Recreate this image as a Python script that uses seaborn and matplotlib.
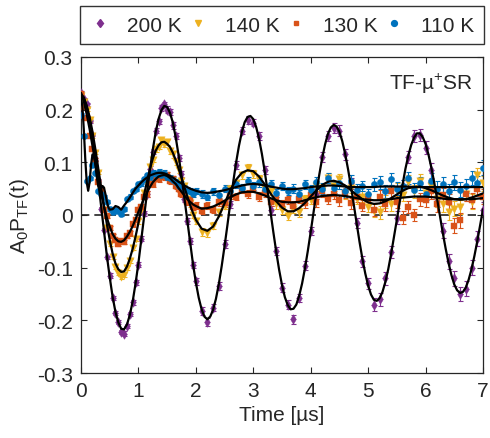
import numpy as np
import matplotlib
matplotlib.use("Agg")
import matplotlib.pyplot as plt
from matplotlib.lines import Line2D
import seaborn as sns

sns.set_theme(style="ticks")
plt.rcParams['font.family'] = ['Liberation Sans', 'DejaVu Sans']
plt.rcParams['mathtext.fontset'] = 'custom'
plt.rcParams['mathtext.rm'] = 'Liberation Sans'
plt.rcParams['mathtext.it'] = 'Liberation Sans:italic'

# ---------------- time bins ----------------
t_data = np.round(np.concatenate([np.linspace(0, 2.0, 41), np.linspace(2.1, 7.0, 50)]), 3)
t_fit200 = np.round(np.linspace(0, 7.0, 141), 3)
t_fit110 = np.round(np.concatenate([np.linspace(0, 0.5, 21), np.linspace(0.55, 2.0, 30),
                                    np.linspace(2.1, 7.0, 50)]), 3)

labels = ["200 K", "140 K", "130 K", "110 K"]
colors = ["#7E2F8E", "#EDB120", "#D95319", "#0072BD"]
markers = ["d", "v", "s", "o"]

# ---------------- data (A0 P_TF) ----------------
y200 = [0.232, 0.220, 0.210, 0.178, 0.152, 0.105, 0.066, 0.012, -0.028, -0.080,
        -0.115, -0.158, -0.186, -0.203, -0.222, -0.225, -0.210, -0.188, -0.166, -0.128,
        -0.094, -0.045, 0.003, 0.040, 0.088, 0.120, 0.160, 0.178, 0.203, 0.210,
        0.200, 0.196, 0.170, 0.150, 0.108, 0.078, 0.030, -0.012, -0.050, -0.095, -0.126,
        -0.182, -0.203, -0.176, -0.135, -0.055, 0.020, 0.095, 0.160, 0.180, 0.175,
        0.150, 0.085, 0.010, -0.068, -0.138, -0.170, -0.198, -0.158, -0.096, -0.030,
        0.040, 0.110, 0.150, 0.165, 0.160, 0.115, 0.060, -0.015, -0.088, -0.130,
        -0.170, -0.160, -0.120, -0.070, -0.005, 0.055, 0.110, 0.150, 0.152, 0.128,
        0.085, 0.030, -0.030, -0.088, -0.120, -0.150, -0.140, -0.100, -0.045, 0.010]
y140 = [0.225, 0.215, 0.200, 0.180, 0.150, 0.118, 0.080, 0.045, 0.010, -0.025,
        -0.055, -0.080, -0.098, -0.110, -0.118, -0.113, -0.100, -0.088, -0.062, -0.045,
        -0.012, 0.010, 0.042, 0.060, 0.092, 0.105, 0.125, 0.130, 0.142, 0.135,
        0.138, 0.122, 0.115, 0.100, 0.085, 0.065, 0.055, 0.030, 0.022, 0.000, -0.012,
        -0.032, -0.035, -0.020, 0.005, 0.018, 0.050, 0.060, 0.075, 0.090, 0.078,
        0.068, 0.050, 0.045, 0.020, 0.010, -0.002, 0.012, 0.005, 0.030, 0.028,
        0.055, 0.048, 0.070, 0.055, 0.068, 0.040, 0.052, 0.030, 0.035, 0.015,
        0.008, 0.005, 0.025, 0.020, 0.048, 0.038, 0.063, 0.045, 0.065, 0.042,
        0.055, 0.030, 0.020, 0.005, 0.012, 0.015, 0.040, 0.025, 0.075, 0.060]
y130 = [0.230, 0.205, 0.185, 0.150, 0.125, 0.105, 0.062, 0.045, 0.010, -0.002,
        -0.025, -0.040, -0.048, -0.055, -0.050, -0.052, -0.040, -0.035, -0.018, -0.010,
        0.010, 0.015, 0.035, 0.040, 0.058, 0.058, 0.072, 0.068, 0.078, 0.072,
        0.075, 0.065, 0.068, 0.055, 0.050, 0.040, 0.040, 0.025, 0.028, 0.015, 0.018,
        0.008, 0.018, 0.010, 0.025, 0.022, 0.038, 0.035, 0.048, 0.040, 0.050,
        0.035, 0.042, 0.025, 0.030, 0.020, 0.028, 0.018, 0.030, 0.022, 0.038,
        0.025, 0.045, 0.030, 0.040, 0.028, 0.042, 0.022, 0.035, 0.018, 0.030,
        0.010, 0.035, 0.020, 0.045, 0.025, -0.005, 0.015, 0.000, 0.030, 0.028,
        0.045, 0.020, 0.038, 0.025, -0.020, -0.010, 0.040, 0.028, 0.050, 0.035]
y110 = [0.190, 0.150, 0.065, 0.070, 0.095, 0.080, 0.045, 0.040, 0.035, 0.025,
        0.012, 0.005, 0.010, 0.008, 0.002, 0.012, 0.030, 0.035, 0.045, 0.050,
        0.058, 0.060, 0.068, 0.075, 0.072, 0.080, 0.078, 0.082, 0.075, 0.080,
        0.072, 0.070, 0.066, 0.062, 0.055, 0.058, 0.050, 0.048, 0.045, 0.040, 0.045,
        0.040, 0.035, 0.045, 0.038, 0.050, 0.045, 0.058, 0.052, 0.065, 0.055,
        0.062, 0.050, 0.058, 0.042, 0.055, 0.045, 0.050, 0.040, 0.058, 0.048,
        0.062, 0.050, 0.070, 0.052, 0.060, 0.045, 0.065, 0.048, 0.055, 0.040,
        0.058, 0.062, 0.045, 0.068, 0.050, 0.055, 0.070, 0.048, 0.060, 0.040,
        0.065, 0.050, 0.058, 0.045, 0.062, 0.048, 0.055, 0.070, 0.060, 0.090]
err = [0.003, 0.003, 0.003, 0.003, 0.003, 0.003, 0.003, 0.003, 0.003, 0.003,
       0.004, 0.004, 0.004, 0.004, 0.004, 0.004, 0.004, 0.004, 0.004, 0.004,
       0.005, 0.005, 0.005, 0.005, 0.005, 0.005, 0.005, 0.005, 0.005, 0.005,
       0.006, 0.006, 0.006, 0.006, 0.006, 0.006, 0.006, 0.006, 0.006, 0.006, 0.006,
       0.007, 0.007, 0.007, 0.007, 0.007, 0.007, 0.007, 0.007, 0.007, 0.007,
       0.008, 0.008, 0.008, 0.008, 0.008, 0.008, 0.008, 0.008, 0.008, 0.008,
       0.010, 0.010, 0.010, 0.010, 0.010, 0.010, 0.010, 0.010, 0.010, 0.010,
       0.012, 0.012, 0.012, 0.012, 0.012, 0.012, 0.012, 0.012, 0.012, 0.012,
       0.014, 0.014, 0.014, 0.014, 0.014, 0.014, 0.014, 0.014, 0.014, 0.014]

# ---------------- fit curves ----------------
fit200 = [0.228, 0.222, 0.206, 0.181, 0.148, 0.108, 0.064, 0.017, -0.031, -0.077,
          -0.118, -0.155, -0.184, -0.204, -0.216, -0.217, -0.208, -0.190, -0.164, -0.130,
          -0.091, -0.047, -0.002, 0.043, 0.085, 0.124, 0.157, 0.182, 0.199, 0.207,
          0.205, 0.194, 0.175, 0.147, 0.113, 0.074, 0.032, -0.011, -0.053, -0.093,
          -0.128, -0.157, -0.179, -0.193, -0.198, -0.193, -0.180, -0.159, -0.131, -0.097,
          -0.059, -0.019, 0.023, 0.062, 0.099, 0.131, 0.157, 0.176, 0.186, 0.188,
          0.182, 0.167, 0.145, 0.116, 0.082, 0.045, 0.006, -0.033, -0.070, -0.104,
          -0.133, -0.156, -0.171, -0.179, -0.178, -0.170, -0.153, -0.130, -0.101, -0.068,
          -0.032, 0.006, 0.043, 0.077, 0.108, 0.134, 0.154, 0.166, 0.171, 0.168,
          0.158, 0.140, 0.116, 0.087, 0.055, 0.020, -0.016, -0.051, -0.083, -0.111,
          -0.134, -0.151, -0.161, -0.163, -0.158, -0.146, -0.127, -0.103, -0.074, -0.042,
          -0.009, 0.025, 0.058, 0.088, 0.113, 0.133, 0.147, 0.155, 0.155, 0.148,
          0.135, 0.115, 0.090, 0.062, 0.031, -0.002, -0.034, -0.064, -0.091, -0.114,
          -0.132, -0.143, -0.148, -0.146, -0.138, -0.123, -0.103, -0.078, -0.050, -0.020,
          0.011]
fit140 = [0.230, 0.223, 0.207, 0.186, 0.158, 0.125, 0.089, 0.053, 0.017, -0.017,
          -0.047, -0.073, -0.092, -0.103, -0.108, -0.107, -0.098, -0.083, -0.064, -0.041,
          -0.015, 0.012, 0.039, 0.064, 0.087, 0.107, 0.122, 0.132, 0.138, 0.139,
          0.135, 0.129, 0.118, 0.104, 0.088, 0.071, 0.053, 0.036, 0.019, 0.004, -0.009,
          -0.026, -0.030, -0.022, -0.003, 0.022, 0.047, 0.067, 0.080, 0.085, 0.083,
          0.073, 0.058, 0.041, 0.026, 0.014, 0.007, 0.007, 0.013, 0.023, 0.035,
          0.047, 0.057, 0.063, 0.065, 0.062, 0.056, 0.047, 0.038, 0.030, 0.024,
          0.021, 0.022, 0.026, 0.032, 0.039, 0.046, 0.051, 0.053, 0.054, 0.051,
          0.047, 0.042, 0.037, 0.033, 0.030, 0.029, 0.030, 0.033, 0.037, 0.041]
fit130 = [0.232, 0.215, 0.191, 0.163, 0.131, 0.099, 0.069, 0.041, 0.016, -0.005,
          -0.022, -0.036, -0.045, -0.050, -0.051, -0.048, -0.041, -0.032, -0.021, -0.008,
          0.006, 0.019, 0.031, 0.043, 0.053, 0.062, 0.068, 0.073, 0.075, 0.076,
          0.074, 0.070, 0.064, 0.059, 0.051, 0.044, 0.037, 0.030, 0.025, 0.020, 0.017,
          0.012, 0.013, 0.016, 0.021, 0.027, 0.034, 0.039, 0.043, 0.044, 0.044,
          0.041, 0.037, 0.032, 0.028, 0.025, 0.024, 0.024, 0.025, 0.028, 0.031,
          0.034, 0.036, 0.037, 0.038, 0.037, 0.036, 0.034, 0.032, 0.030, 0.029,
          0.028, 0.028, 0.029, 0.030, 0.032, 0.033, 0.034, 0.035, 0.035, 0.035,
          0.034, 0.033, 0.031, 0.030, 0.030, 0.030, 0.030, 0.030, 0.031, 0.032]
fit110 = [0.225, 0.205, 0.160, 0.105, 0.062, 0.046, 0.062, 0.095, 0.115, 0.112,
          0.095, 0.072, 0.055, 0.048, 0.050, 0.055, 0.052, 0.040, 0.026, 0.015, 0.010,
          0.011, 0.017, 0.015, 0.010, 0.018, 0.025, 0.033, 0.042, 0.050, 0.056,
          0.062, 0.067, 0.071, 0.075, 0.077, 0.079, 0.080, 0.080, 0.079, 0.077,
          0.074, 0.071, 0.067, 0.063, 0.060, 0.056, 0.053, 0.050, 0.048, 0.046,
          0.043, 0.042, 0.043, 0.045, 0.047, 0.050, 0.053, 0.056, 0.058, 0.059,
          0.058, 0.056, 0.054, 0.052, 0.050, 0.049, 0.049, 0.050, 0.051, 0.053,
          0.054, 0.055, 0.056, 0.056, 0.055, 0.054, 0.053, 0.053, 0.053, 0.053,
          0.053, 0.054, 0.054, 0.054, 0.054, 0.054, 0.054, 0.053, 0.053, 0.053,
          0.053, 0.053, 0.053, 0.053, 0.053, 0.053, 0.053, 0.053, 0.053, 0.053]

data = [y200, y140, y130, y110]
fits = [(t_fit200, fit200), (t_data, fit140), (t_data, fit130), (t_fit110, fit110)]
sizes = [24, 28, 14, 20]

fig = plt.figure(figsize=(4.9, 4.39), dpi=100)
ax = fig.add_axes([0.1653, 0.148, 0.8204, 0.720])

ax.axhline(0, color="#222222", ls="--", lw=1.2, dashes=(5, 3), zorder=1)

# draw 110 K first so that 200 K sits on top
for i in [3, 2, 1, 0]:
    ax.errorbar(t_data, data[i], yerr=err, fmt="none", ecolor=colors[i],
                elinewidth=0.8, capsize=1.8, capthick=0.8, zorder=2 + i * 0.1)
    sns.scatterplot(x=t_data, y=data[i], marker=markers[i], color=colors[i], s=sizes[i],
                    edgecolor=colors[i], linewidth=0.3, ax=ax, zorder=3 + i * 0.1, legend=False)

for tf, yf in fits:
    sns.lineplot(x=tf, y=yf, color="black", lw=1.6, ax=ax, estimator=None, sort=False, zorder=5)

ax.set_xlim(0, 7)
ax.set_ylim(-0.3, 0.3)
ax.set_xticks(range(8))
ax.set_yticks([-0.3, -0.2, -0.1, 0, 0.1, 0.2, 0.3])
ax.set_yticklabels(["-0.3", "-0.2", "-0.1", "0", "0.1", "0.2", "0.3"])
ax.tick_params(direction="in", top=True, right=True, length=4, width=0.8,
               labelsize=15, colors="#262626", pad=6)
for s in ax.spines.values():
    s.set_linewidth(0.9)
    s.set_color("#262626")

ax.set_xlabel("Time [µs]", fontsize=15, color="#262626", labelpad=3)
ax.set_ylabel(r"A$_0$P$_{\mathrm{TF}}$(t)", fontsize=15, color="#262626", labelpad=4)
ax.text(0.975, 0.955, r"TF-µ$^{+}$SR", transform=ax.transAxes, ha="right", va="top",
        fontsize=15, color="#262626")

handles = [Line2D([], [], ls="none", marker=markers[i], color=colors[i],
                  markersize=[4.5, 5, 3.5, 4.2][i]) for i in range(4)]
leg = fig.legend(handles, labels, loc="lower left", ncol=4, mode="expand",
                 bbox_to_anchor=(0.1633, 0.8975, 0.8245, 0.0845), borderaxespad=0,
                 frameon=True, fancybox=False, edgecolor="black", fontsize=15,
                 handlelength=1.0, handletextpad=0.8, borderpad=0.45)
leg.get_frame().set_linewidth(1.0)

fig.savefig("out.png", dpi=100)
